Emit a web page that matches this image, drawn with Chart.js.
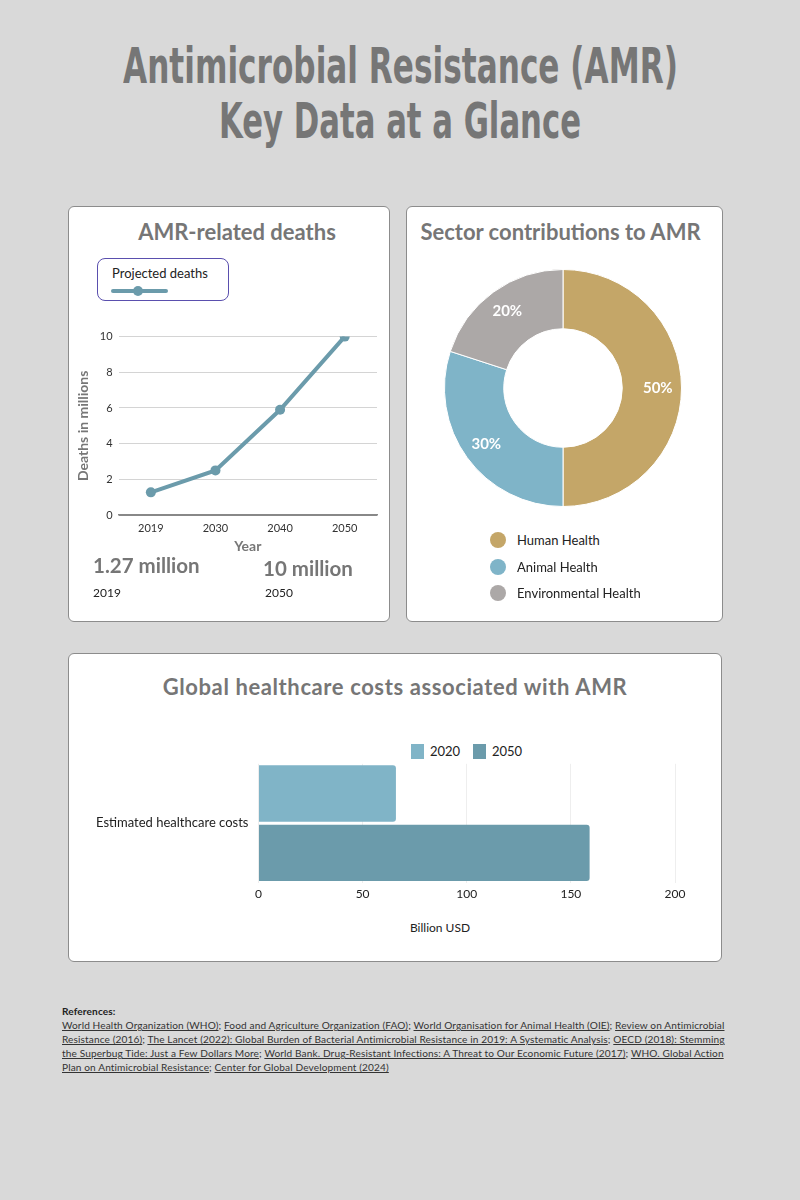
<!DOCTYPE html>
<html>
<head>
<meta charset="utf-8">
<script src="https://cdn.jsdelivr.net/npm/chart.js@4.4.1/dist/chart.umd.min.js"></script>
<style>
  html, body { margin: 0; padding: 0; background: #d9d9d9; }
  #page { position: relative; width: 800px; height: 1200px; background: #d9d9d9; font-family: Lato, "Open Sans", sans-serif; overflow: hidden; }
  .main-title { position: absolute; left: 0; width: 800px; text-align: center; color: #767676;
    font-family: "Liberation Sans Narrow", "DejaVu Sans Condensed", sans-serif; font-weight: bold; font-size: 50px; line-height: 56px; white-space: nowrap; }
  .main-title span { display: inline-block; transform-origin: center; }
  .card { position: absolute; background: #fff; border: 1px solid #8c8c8c; border-radius: 6px; box-sizing: border-box; }
  .card-title { position: absolute; color: #767676; font-weight: bold; font-size: 22px; white-space: nowrap; text-align: center; }
  .abs { position: absolute; }
  canvas { position: absolute; }
  .big { position: absolute; color: #767676; font-weight: bold; font-size: 20.5px; white-space: nowrap; }
  .small { position: absolute; color: #222; font-size: 12px; }
  .leg-box { position: absolute; left: 97px; top: 258px; width: 132px; height: 43px; border: 1px solid #5a4fae; border-radius: 8px; box-sizing: border-box; }
  .leg-item { position: absolute; display: flex; align-items: center; font-size: 13px; color: #222; white-space: nowrap; }
  .refs { position: absolute; left: 62px; top: 1004px; width: 672px; font-size: 10.1px; letter-spacing: 0.12px; line-height: 14px; color: #333; }
  .refs u { text-decoration: underline; }
</style>
</head>
<body>
<div id="page">
  <div class="main-title" style="top:38px"><span id="t1">Antimicrobial Resistance (AMR)</span></div>
  <div class="main-title" style="top:93px"><span id="t2">Key Data at a Glance</span></div>

  <!-- card 1 -->
  <div class="card" style="left:68px; top:206px; width:322px; height:416px;"></div>
  <div class="card-title" style="left:68px; width:338px; top:218px;">AMR-related deaths</div>
  <div class="leg-box"></div>
  <div class="leg-item" style="left:112px; top:265px;">Projected deaths</div>
  <div class="abs" id="legLine" style="left:111px; top:289px; width:57px; height:4px; border-radius:2px;"></div>
  <div class="abs" id="legDot" style="left:133px; top:286px; width:10px; height:10px; border-radius:50%;"></div>
  <canvas id="lineChart"></canvas>
  <div class="big" style="left:93px; top:553px;">1.27 million</div>
  <div class="small" style="left:93px; top:585px;">2019</div>
  <div class="big" style="left:263px; top:556px;">10 million</div>
  <div class="small" style="left:265px; top:585px;">2050</div>

  <!-- card 2 -->
  <div class="card" style="left:406px; top:206px; width:317px; height:416px;"></div>
  <div class="card-title" style="left:402px; width:317px; top:218px;">Sector contributions to AMR</div>
  <canvas id="donutChart"></canvas>
  <div id="donutLegend"></div>

  <!-- card 3 -->
  <div class="card" style="left:68px; top:653px; width:654px; height:309px;"></div>
  <div class="card-title" style="left:68px; width:654px; top:673px; letter-spacing:0.6px;">Global healthcare costs associated with AMR</div>
  <div id="barLegend"></div>
  <canvas id="barChart"></canvas>
  <div class="small" style="left:380px; width:120px; text-align:center; top:920px;">Billion USD</div>

  <div class="refs">
    <b style="color:#222">References:</b><br>
    <u>World Health Organization (WHO)</u>; <u>Food and Agriculture Organization (FAO)</u>; <u>World Organisation for Animal Health (OIE)</u>; <u>Review on Antimicrobial Resistance (2016)</u>; <u>The Lancet (2022): Global Burden of Bacterial Antimicrobial Resistance in 2019: A Systematic Analysis</u>; <u>OECD (2018): Stemming the Superbug Tide: Just a Few Dollars More</u>; <u>World Bank. Drug-Resistant Infections: A Threat to Our Economic Future (2017)</u>; <u>WHO. Global Action Plan on Antimicrobial Resistance</u>; <u>Center for Global Development (2024)</u>
  </div>
</div>

<script>
// ── DATA ──
const deathYears = ['2019', '2030', '2040', '2050'];
const deathValues = [1.27, 2.5, 5.9, 10];

const sectorLabels = ['Human Health', 'Animal Health', 'Environmental Health'];
const sectorValues = [50, 30, 20];

const costCategories = ['Estimated healthcare costs'];
const cost2020 = [66];
const cost2050 = [159];

// ── COLOURS ──
const LINE_COLOR = '#6b9bab';
const SECTOR_COLORS = ['#c4a668', '#7fb4c8', '#aca8a7'];
const C2020 = '#80b4c7';
const C2050 = '#6b9bab';

Chart.defaults.font.family = 'Lato';
Chart.defaults.color = '#333';

// fit condensed title lines to the reference widths
function fitLine(id, w) {
  const el = document.getElementById(id);
  const r = el.getBoundingClientRect().width;
  el.style.transform = 'scaleX(' + (w / r) + ')';
}
fitLine('t1', 555);
fitLine('t2', 362);

document.getElementById('legLine').style.background = LINE_COLOR;
document.getElementById('legDot').style.background = LINE_COLOR;

function place(id, l, t, w, h) {
  const c = document.getElementById(id);
  c.style.left = l + 'px'; c.style.top = t + 'px';
  c.style.width = w + 'px'; c.style.height = h + 'px';
  c.width = w; c.height = h;
  return c;
}

// ── LINE CHART ──
new Chart(place('lineChart', 75, 324, 310, 231), {
  type: 'line',
  data: {
    labels: deathYears,
    datasets: [{ label: 'Projected deaths', data: deathValues,
      borderColor: LINE_COLOR, backgroundColor: LINE_COLOR, borderWidth: 4,
      pointRadius: 5, pointBackgroundColor: LINE_COLOR, pointBorderWidth: 0, tension: 0 }]
  },
  options: { responsive: false, animation: false,
    layout: { padding: { top: 8, right: 8, left: 0, bottom: 0 } },
    plugins: { legend: { display: false }, tooltip: { enabled: false } },
    scales: {
      x: { offset: true, grid: { display: false, drawTicks: false }, border: { color: '#888', width: 1.5 },
        ticks: { font: { size: 11 }, color: '#333', padding: 7 },
        title: { display: true, text: 'Year', color: '#777', font: { size: 14, weight: 'bold' }, padding: { top: -4, bottom: 0 } } },
      y: { min: 0, max: 10, ticks: { stepSize: 2, font: { size: 11 }, color: '#333', padding: 6 },
        border: { display: false },
        grid: { color: c => c.tick && c.tick.value === 0 ? '#888' : '#d4d4d4', drawTicks: false },
        title: { display: true, text: 'Deaths in millions', color: '#777', font: { size: 14, weight: 'bold' }, padding: { top: 0, bottom: 2 } } }
    } }
});

// ── DONUT ──
const pctLabels = {
  id: 'pctLabels',
  afterDatasetsDraw(chart) {
    const ctx = chart.ctx;
    const meta = chart.getDatasetMeta(0);
    ctx.save();
    ctx.fillStyle = '#fff';
    ctx.font = 'bold 15px Lato';
    ctx.textAlign = 'center';
    ctx.textBaseline = 'middle';
    meta.data.forEach((arc, i) => {
      const p = arc.getProps(['x', 'y', 'startAngle', 'endAngle', 'innerRadius', 'outerRadius'], true);
      const a = (p.startAngle + p.endAngle) / 2;
      const r = p.innerRadius + (p.outerRadius - p.innerRadius) * 0.6;
      ctx.fillText(sectorValues[i] + '%', p.x + Math.cos(a) * r, p.y + Math.sin(a) * r);
    });
    ctx.restore();
  }
};

new Chart(place('donutChart', 444, 269, 238, 238), {
  type: 'doughnut',
  data: {
    labels: sectorLabels,
    datasets: [{ data: sectorValues, backgroundColor: SECTOR_COLORS, borderColor: '#fff', borderWidth: 1 }]
  },
  options: { responsive: false, animation: false, cutout: '50%',
    plugins: { legend: { display: false }, tooltip: { enabled: false } } },
  plugins: [pctLabels]
});

// donut legend built from the label/colour arrays
const dl = document.getElementById('donutLegend');
sectorLabels.forEach((lab, i) => {
  const d = document.createElement('div');
  d.className = 'leg-item';
  d.style.left = '490px';
  d.style.top = (532 + i * 26.5) + 'px';
  d.innerHTML = '<span style="display:inline-block;width:16px;height:16px;border-radius:50%;background:' +
    SECTOR_COLORS[i] + ';margin-right:11px"></span>' + lab;
  dl.appendChild(d);
});

// ── BAR CHART ──
const bl = document.getElementById('barLegend');
[['2020', C2020, 411], ['2050', C2050, 473]].forEach(([lab, col, x]) => {
  const d = document.createElement('div');
  d.className = 'leg-item';
  d.style.left = x + 'px';
  d.style.top = '743px';
  d.innerHTML = '<span style="display:inline-block;width:13px;height:15px;background:' + col +
    ';margin-right:6px"></span>' + lab;
  bl.appendChild(d);
});

new Chart(place('barChart', 83, 754, 632, 151), {
  type: 'bar',
  data: {
    labels: costCategories,
    datasets: [
      { label: '2020', data: cost2020, backgroundColor: C2020, borderRadius: 3, borderSkipped: 'start' },
      { label: '2050', data: cost2050, backgroundColor: C2050, borderRadius: 3, borderSkipped: 'start' }
    ]
  },
  options: { indexAxis: 'y', responsive: false, animation: false,
    categoryPercentage: 1, barPercentage: 0.95,
    layout: { padding: { top: 6, right: 40, left: 11, bottom: 0 } },
    plugins: { legend: { display: false }, tooltip: { enabled: false } },
    scales: {
      x: { min: 0, max: 200, ticks: { stepSize: 50, font: { size: 12 }, color: '#222', padding: 4 },
        grid: { color: '#eeeeee', drawTicks: false }, border: { display: false } },
      y: { grid: { display: false }, border: { display: false },
        ticks: { font: { size: 13 }, color: '#222', padding: 2 } }
    } }
});
</script>
</body>
</html>
